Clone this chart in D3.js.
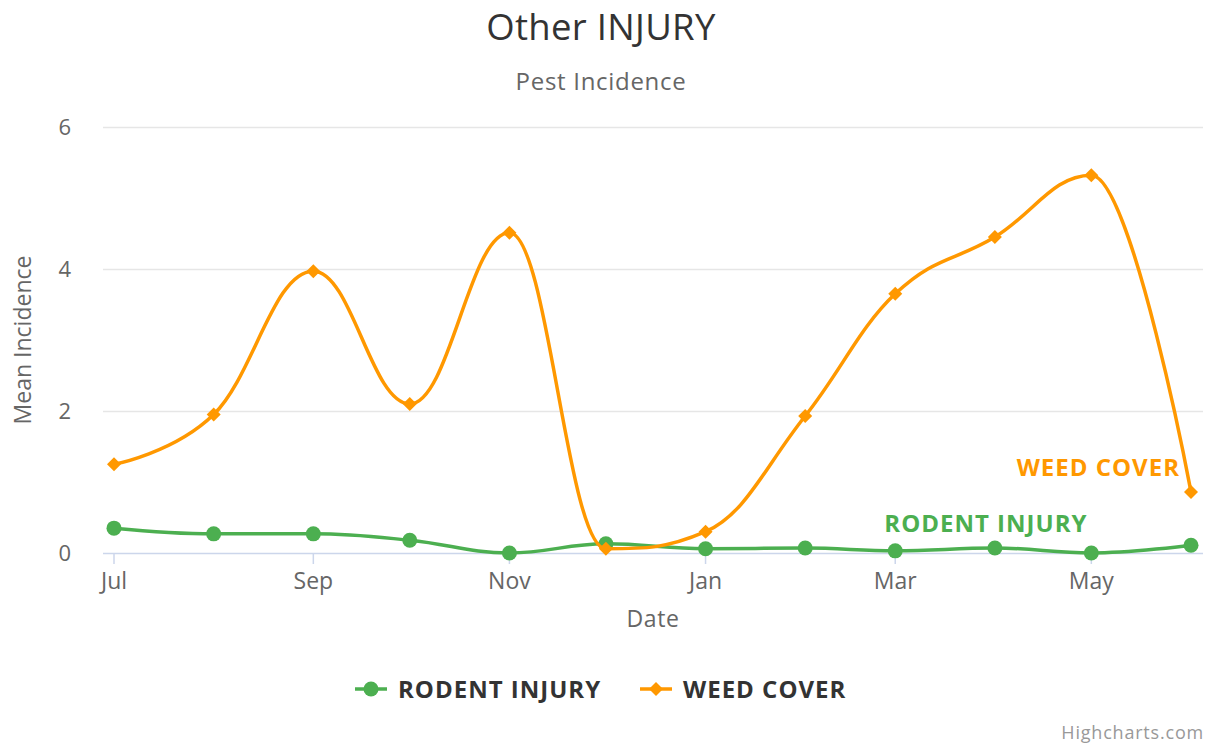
<!DOCTYPE html>
<html>
<head>
<meta charset="utf-8">
<script src="https://cdn.jsdelivr.net/npm/d3@7"></script>
<style>
  html, body { margin: 0; padding: 0; background: #fff; }
  svg { display: block; font-family: "Open Sans", "Noto Sans", sans-serif; }
</style>
</head>
<body>
<svg id="chart" width="1214" height="744"></svg>
<script>
// ---------------- data ----------------
const months = ["2018-07-01","2018-08-01","2018-09-01","2018-10-01","2018-11-01","2018-12-01",
                "2019-01-01","2019-02-01","2019-03-01","2019-04-01","2019-05-01","2019-06-01"];
const rodentInjury = [0.35, 0.27, 0.27, 0.18, 0.00, 0.13, 0.06, 0.07, 0.03, 0.07, 0.00, 0.11];
const weedCover    = [1.25, 1.95, 3.97, 2.10, 4.51, 0.06, 0.30, 1.93, 3.65, 4.45, 5.32, 0.86];
const yTicks = [0, 2, 4, 6];
const xTickLabels = ["Jul", "Sep", "Nov", "Jan", "Mar", "May"];
const xTickDates = ["2018-07-01","2018-09-01","2018-11-01","2019-01-01","2019-03-01","2019-05-01"];
const seriesNames = ["RODENT INJURY", "WEED COVER"];
const seriesColors = ["#4caf50", "#ff9800"];

const parse = d3.utcParse("%Y-%m-%d");
const dates = months.map(parse);

// ---------------- layout ----------------
const svg = d3.select("#chart");
const plot = { left: 103, right: 1203, top: 127, bottom: 553 };

const x = d3.scaleUtc()
  .domain([dates[0], dates[dates.length - 1]])
  .range([114, 1191]);
const y = d3.scaleLinear().domain([0, 6]).range([plot.bottom, plot.top]);

// Highcharts-like spline curve
function hcSpline(pts) {
  const sm = 1.5, den = sm + 1;
  let d = "";
  const rc = [];
  for (let i = 0; i < pts.length; i++) {
    const [px, py] = pts[i];
    if (i === 0) { d += `M${px},${py}`; rc.push(null); continue; }
    const last = pts[i - 1], next = pts[i + 1];
    let lcx = px, lcy = py, rcx, rcy;
    if (next) {
      lcx = (sm * px + last[0]) / den; lcy = (sm * py + last[1]) / den;
      rcx = (sm * px + next[0]) / den; rcy = (sm * py + next[1]) / den;
      let corr = 0;
      if (rcx !== lcx) corr = ((rcy - lcy) * (rcx - px)) / (rcx - lcx) + py - rcy;
      lcy += corr; rcy += corr;
      if (lcy > last[1] && lcy > py) { lcy = Math.max(last[1], py); rcy = 2 * py - lcy; }
      else if (lcy < last[1] && lcy < py) { lcy = Math.min(last[1], py); rcy = 2 * py - lcy; }
      if (rcy > next[1] && rcy > py) { rcy = Math.max(next[1], py); lcy = 2 * py - rcy; }
      else if (rcy < next[1] && rcy < py) { rcy = Math.min(next[1], py); lcy = 2 * py - rcy; }
      rc.push([rcx, rcy]);
    } else rc.push(null);
    const prc = rc[i - 1] || last;
    d += `C${prc[0]},${prc[1]},${lcx},${lcy},${px},${py}`;
  }
  return d;
}

// ---------------- title ----------------
svg.append("text").attr("x", 601).attr("y", 39.5).attr("text-anchor", "middle")
  .attr("font-size", 36.5).attr("letter-spacing", 0.3).attr("fill", "#333").text("Other INJURY");
svg.append("text").attr("x", 601).attr("y", 90).attr("text-anchor", "middle")
  .attr("font-size", 24).attr("letter-spacing", 0.7).attr("fill", "#666").text("Pest Incidence");

// ---------------- grid & axes ----------------
svg.append("g").selectAll("line").data(yTicks.filter(t => t !== 0)).join("line")
  .attr("x1", plot.left).attr("x2", plot.right)
  .attr("y1", d => y(d) + 0.5).attr("y2", d => y(d) + 0.5)
  .attr("stroke", "#e6e6e6").attr("stroke-width", 1.5);

svg.append("g").selectAll("text").data(yTicks).join("text")
  .attr("x", 71).attr("y", d => y(d) + 8).attr("text-anchor", "end")
  .attr("font-size", 22).attr("fill", "#666").text(d => d);

// x axis line
svg.append("line").attr("x1", plot.left).attr("x2", plot.right)
  .attr("y1", plot.bottom + 0.5).attr("y2", plot.bottom + 0.5)
  .attr("stroke", "#ccd6eb").attr("stroke-width", 1.5);

const xt = svg.append("g");
xTickDates.forEach((ds, i) => {
  const xx = x(parse(ds));
  xt.append("line").attr("x1", xx).attr("x2", xx).attr("y1", plot.bottom).attr("y2", plot.bottom + 11)
    .attr("stroke", "#ccd6eb").attr("stroke-width", 1.5);
  xt.append("text").attr("x", xx).attr("y", 589).attr("text-anchor", "middle")
    .attr("font-size", 23).attr("fill", "#666").text(xTickLabels[i]);
});

svg.append("text").attr("x", (plot.left + plot.right) / 2).attr("y", 627).attr("text-anchor", "middle")
  .attr("font-size", 23).attr("letter-spacing", 0.6).attr("fill", "#666").text("Date");
svg.append("text").attr("transform", `translate(31,${(plot.top + plot.bottom) / 2}) rotate(-90)`)
  .attr("text-anchor", "middle").attr("font-size", 23).attr("fill", "#666").text("Mean Incidence");

// ---------------- series ----------------
const allSeries = [rodentInjury, weedCover];
allSeries.forEach((vals, si) => {
  const pts = vals.map((v, i) => [x(dates[i]), y(v)]);
  const g = svg.append("g");
  g.append("path").attr("d", hcSpline(pts)).attr("fill", "none")
    .attr("stroke", seriesColors[si]).attr("stroke-width", 3.5)
    .attr("stroke-linejoin", "round").attr("stroke-linecap", "round");
  if (si === 0) {
    g.selectAll("circle").data(pts).join("circle")
      .attr("cx", d => d[0]).attr("cy", d => d[1]).attr("r", 7.5).attr("fill", seriesColors[si]);
  } else {
    g.selectAll("path.m").data(pts).join("path").attr("class", "m")
      .attr("d", d => `M${d[0]},${d[1] - 7}L${d[0] + 7},${d[1]}L${d[0]},${d[1] + 7}L${d[0] - 7},${d[1]}Z`)
      .attr("fill", seriesColors[si]);
  }
});

// series labels
const n = dates.length;
svg.append("text").attr("x", x(dates[n - 1]) - 11).attr("y", y(weedCover[n - 1]) - 16)
  .attr("text-anchor", "end").attr("font-size", 24).attr("letter-spacing", 1).attr("font-weight", "bold")
  .attr("fill", seriesColors[1]).text(seriesNames[1]);
svg.append("text").attr("x", x(dates[9]) - 9).attr("y", y(0) - 21)
  .attr("text-anchor", "middle").attr("font-size", 24).attr("letter-spacing", 1).attr("font-weight", "bold")
  .attr("fill", seriesColors[0]).text(seriesNames[0]);

// ---------------- legend ----------------
const lg = svg.append("g");
const legendX = [355, 640];
seriesNames.forEach((name, i) => {
  const lx = legendX[i], ly = 689;
  lg.append("line").attr("x1", lx).attr("x2", lx + 32).attr("y1", ly).attr("y2", ly)
    .attr("stroke", seriesColors[i]).attr("stroke-width", 3.5);
  if (i === 0) lg.append("circle").attr("cx", lx + 16).attr("cy", ly).attr("r", 7.5).attr("fill", seriesColors[i]);
  else lg.append("path").attr("d", `M${lx + 16},${ly - 7}L${lx + 23},${ly}L${lx + 16},${ly + 7}L${lx + 9},${ly}Z`)
    .attr("fill", seriesColors[i]);
  lg.append("text").attr("x", lx + 43).attr("y", ly + 8.5).attr("font-size", 24).attr("letter-spacing", 1)
    .attr("font-weight", "bold").attr("fill", "#333").text(name);
});

// credits
svg.append("text").attr("x", 1204).attr("y", 739).attr("text-anchor", "end")
  .attr("font-size", 18).attr("letter-spacing", 0.8).attr("fill", "#999").text("Highcharts.com");
</script>
</body>
</html>
